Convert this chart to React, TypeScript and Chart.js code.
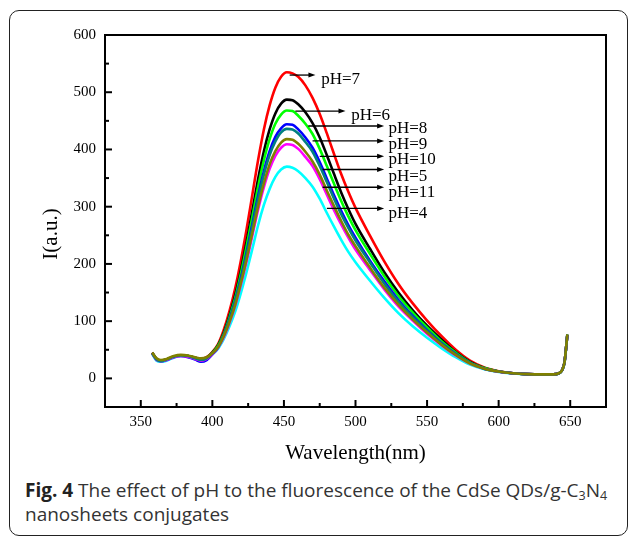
import React, { useEffect, useRef } from "react";
import { Chart, registerables } from "chart.js";

Chart.register(...registerables);

// ---------- data ----------
const wavelengths = [358, 361, 364, 368, 373, 378, 383, 388, 392, 396, 400, 404, 408, 412, 416, 420, 424, 428, 432, 436, 440, 444, 448, 452, 456, 460, 465, 470, 475, 480, 485, 490, 495, 500, 510, 520, 530, 540, 550, 560, 570, 580, 590, 600, 610, 620, 630, 638, 642, 644, 646, 648];

const pH7 = [45, 34, 31, 33, 38, 40, 39, 36, 34, 37, 46, 60, 85, 118, 158, 207, 262, 322, 382, 435, 477, 508, 527, 535, 533, 527, 512, 490, 462, 428, 392, 357, 326, 298, 250, 205, 165, 131, 101, 74, 50, 31, 19, 12.5, 9, 7.5, 7, 7, 9, 13, 28, 76];
const pH6 = [45, 34, 31, 33, 38, 40, 39, 36, 33, 36, 45, 58, 80, 110, 146, 190, 240, 294, 349, 397, 435, 463, 480, 487, 486, 479, 465, 446, 421, 390, 357, 325, 296, 270, 227, 186, 150, 119, 92, 68, 46, 29, 18, 12, 9, 7.5, 7, 7, 9, 13, 28, 76];
const pH8 = [44, 34, 31, 33, 38, 40, 39, 36, 33, 36, 44.5, 57, 78, 107, 141, 184, 232, 283, 335, 381, 418, 445, 461, 468, 467, 459, 445, 427, 401, 371, 340, 310, 283, 259, 218, 179, 144, 115, 89, 65, 45, 28, 18, 12, 9, 7.5, 7, 7, 9, 13, 28, 76];
const pH9 = [44, 33, 30, 32, 37, 39, 37, 33, 29, 32, 42, 54, 76, 103, 136, 176, 221, 270, 319, 362, 397, 422, 437, 444, 443, 435, 421, 403, 378, 349, 320, 293, 268, 246, 206, 170, 137, 109, 84, 62, 43, 27, 17, 12, 9, 7.5, 7, 7, 9, 13, 28, 76];
const pH10 = [44, 33, 30, 33, 38, 40, 39, 35, 32, 35, 44, 55, 75, 102, 134, 173, 217, 265, 313, 356, 390, 414, 430, 436, 435, 428, 413, 396, 371, 343, 314, 287, 263, 241, 203, 166, 134, 107, 83, 61, 42, 27, 17, 12, 9, 7.5, 7, 7, 9, 13, 28, 77];
const pH5 = [45, 35, 32, 34, 39, 41, 40, 37, 35, 37, 44, 55, 74, 99, 129, 167, 209, 255, 301, 341, 374, 397, 412, 418, 417, 410, 396, 379, 356, 328, 301, 275, 251, 231, 194, 159, 129, 103, 80, 59, 41, 26, 17, 12, 9, 7.5, 7, 7, 9, 13, 28, 77];
const pH11 = [44, 32, 30, 32, 37, 39, 38, 34, 31, 34, 43, 54, 72, 97, 127, 164, 205, 250, 295, 334, 366, 389, 403, 409, 408, 401, 387, 371, 348, 321, 294, 269, 246, 225, 190, 156, 126, 101, 78, 58, 40, 26, 17, 11.5, 9, 7.5, 7, 7, 9, 13, 28, 76];
const pH4 = [43, 31, 29, 31, 36, 39, 38, 35, 33, 36, 42, 52, 69, 91, 117, 150, 187, 227, 268, 303, 331, 352, 365, 370, 368, 362, 350, 335, 314, 289, 265, 242, 221, 203, 171, 141, 114, 91, 71, 53, 37, 24, 16, 11, 8.5, 7, 6.5, 6.5, 8.5, 12.5, 27, 75];

const seriesLabels = ["pH=7", "pH=6", "pH=8", "pH=9", "pH=10", "pH=5", "pH=11", "pH=4"];
const seriesValues = [pH7, pH6, pH8, pH9, pH10, pH5, pH11, pH4];
const seriesColors = ["#ff0000", "#000000", "#00ff00", "#0000ff", "#008080", "#808000", "#ff00ff", "#00ffff"];
const seriesOrder = [6, 5, 4, 3, 1, 0, 2, 7];

// callout arrows (data units)
const arrowY = [530, 467, 441, 415, 388, 365, 334, 297];
const arrowFromX = [454, 458, 467, 470, 475, 477, 477, 480];
const arrowToX = [472, 493, 520, 520, 520, 520, 520, 520];
const calloutTextX = [476, 497, 523, 523, 523, 523, 523, 523];
const calloutTextY = [514, 452, 428, 401, 374, 345, 317, 280];

const xTickValues = [350, 400, 450, 500, 550, 600, 650];
const xMinorTicks = [375, 425, 475, 525, 575, 625];
const yTickValues = [0, 100, 200, 300, 400, 500, 600];
const yMinorTicks = [50, 150, 250, 350, 450, 550];

const xTitle = "Wavelength(nm)";
const yTitle = "I(a.u.)";

const SERIF = "'Liberation Serif', 'Times New Roman', serif";

const overlayPlugin = {
  id: "overlay",
  afterDraw(chart: any) {
    const { ctx, chartArea: a } = chart;
    const xs = chart.scales.x;
    const ys = chart.scales.y;
    ctx.save();
    // ticks (inward)
    ctx.strokeStyle = "#000";
    ctx.lineWidth = 2;
    const tick = (x1: number, y1: number, x2: number, y2: number) => {
      ctx.beginPath();
      ctx.moveTo(x1, y1);
      ctx.lineTo(x2, y2);
      ctx.stroke();
    };
    xTickValues.forEach((v) => { const p = xs.getPixelForValue(v); tick(p, a.bottom, p, a.bottom - 7); });
    xMinorTicks.forEach((v) => { const p = xs.getPixelForValue(v); tick(p, a.bottom, p, a.bottom - 4); });
    yTickValues.forEach((v) => { const p = ys.getPixelForValue(v); tick(a.left, p, a.left + 7, p); });
    yMinorTicks.forEach((v) => { const p = ys.getPixelForValue(v); tick(a.left, p, a.left + 4, p); });
    // frame
    ctx.lineWidth = 2;
    ctx.strokeRect(a.left, a.top, a.right - a.left, a.bottom - a.top);

    // callouts
    ctx.fillStyle = "#000";
    ctx.font = "17px " + SERIF;
    ctx.textAlign = "left";
    ctx.textBaseline = "alphabetic";
    seriesLabels.forEach((lab, i) => {
      const y = ys.getPixelForValue(arrowY[i]);
      const x1 = xs.getPixelForValue(arrowFromX[i]);
      const x2 = xs.getPixelForValue(arrowToX[i]);
      ctx.lineWidth = 1.3;
      ctx.beginPath();
      ctx.moveTo(x1, y);
      ctx.lineTo(x2 - 6, y);
      ctx.stroke();
      ctx.beginPath();
      ctx.moveTo(x2, y);
      ctx.lineTo(x2 - 7, y - 2.5);
      ctx.lineTo(x2 - 7, y + 2.5);
      ctx.closePath();
      ctx.fill();
      ctx.fillText(lab, xs.getPixelForValue(calloutTextX[i]), ys.getPixelForValue(calloutTextY[i]));
    });

    // axis titles
    ctx.font = "21px " + SERIF;
    ctx.textAlign = "center";
    ctx.textBaseline = "middle";
    ctx.fillText(xTitle, (a.left + a.right) / 2, a.bottom + 46);
    ctx.translate(51, a.top + 199);
    ctx.rotate(-Math.PI / 2);
    ctx.fillText(yTitle, 0, 0);
    ctx.restore();
  },
};

export default function App() {
  const canvasRef = useRef<HTMLCanvasElement | null>(null);

  useEffect(() => {
    const canvas = canvasRef.current;
    if (!canvas) return;
    const datasets = seriesLabels.map((lab, i) => ({
      label: lab,
      data: wavelengths.map((w, j) => ({ x: w, y: seriesValues[i][j] })),
      borderColor: seriesColors[i],
      backgroundColor: seriesColors[i],
      borderWidth: 2.6,
      pointRadius: 0,
      fill: false,
      cubicInterpolationMode: "monotone" as const,
      order: seriesOrder[i],
    }));
    const chart = new Chart(canvas, {
      type: "line",
      data: { datasets },
      plugins: [overlayPlugin],
      options: {
        responsive: false,
        animation: false,
        devicePixelRatio: 1,
        layout: { padding: { left: 0, top: 35, right: 23, bottom: 0 } },
        plugins: { legend: { display: false }, tooltip: { enabled: false }, title: { display: false } },
        scales: {
          x: {
            type: "linear",
            min: 325,
            max: 675,
            grid: { display: false, drawTicks: false },
            border: { display: false },
            afterBuildTicks: (s: any) => { s.ticks = xTickValues.map((v) => ({ value: v })); },
            afterFit: (s: any) => { s.height = 63; },
            ticks: { padding: 6, color: "#000", font: { family: SERIF, size: 15 }, maxRotation: 0, autoSkip: false },
          },
          y: {
            type: "linear",
            min: -50,
            max: 600,
            grid: { display: false, drawTicks: false },
            border: { display: false },
            afterBuildTicks: (s: any) => { s.ticks = yTickValues.map((v) => ({ value: v })); },
            afterFit: (s: any) => { s.width = 105; },
            ticks: { padding: 9, color: "#000", font: { family: SERIF, size: 15 }, autoSkip: false },
          },
        },
      },
    });
    return () => chart.destroy();
  }, []);

  const subStyle = { fontSize: 12.5, verticalAlign: "baseline", position: "relative" as const, top: 3, lineHeight: 0 };

  return (
    <div style={{ position: "fixed", left: 0, top: 0, width: 629, height: 537, overflow: "hidden", background: "#fff" }}>
      <div
        style={{
          position: "absolute",
          left: 9,
          top: 10,
          width: 619,
          height: 526,
          boxSizing: "border-box",
          border: "1.5px solid #222",
          borderRadius: 10,
        }}
      />
      <canvas ref={canvasRef} width={629} height={470} style={{ position: "absolute", left: 0, top: 0, width: 629, height: 470 }} />
      <div
        style={{
          position: "absolute",
          left: 25,
          top: 478,
          fontFamily: "'Open Sans', sans-serif",
          fontSize: 19,
          lineHeight: "24px",
          color: "#333",
          whiteSpace: "nowrap",
        }}
      >
        <b style={{ color: "#222" }}>Fig. 4</b> The effect of pH to the fluorescence of the CdSe QDs/g-C
        <sub style={subStyle}>3</sub>N
        <sub style={subStyle}>4</sub>
        <br />
        nanosheets conjugates
      </div>
    </div>
  );
}
